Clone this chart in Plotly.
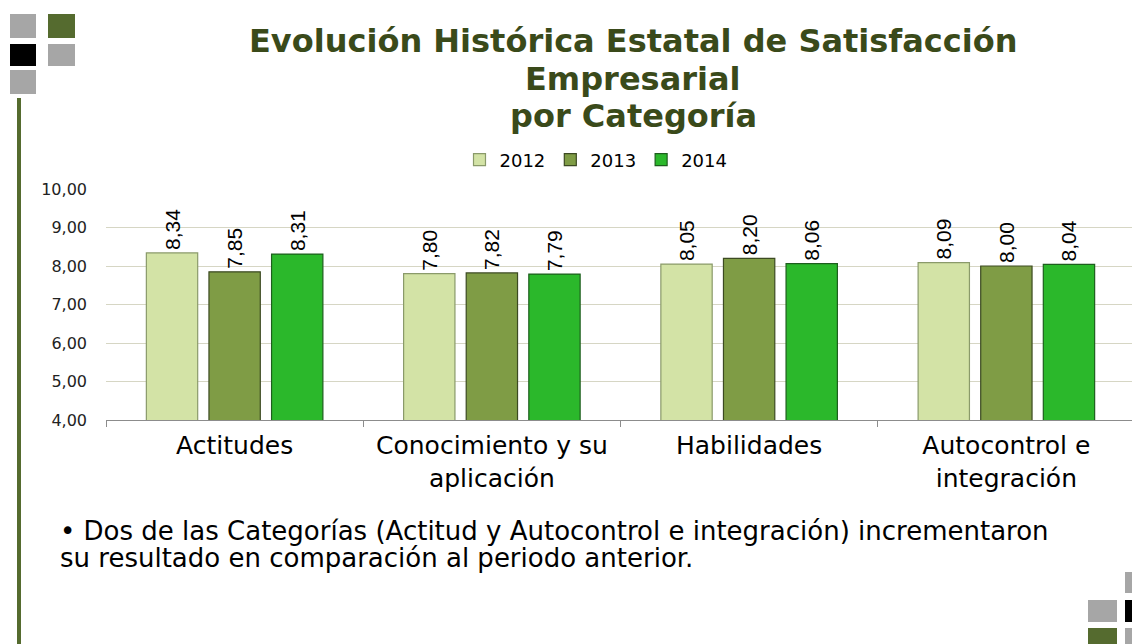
import plotly.graph_objects as go

# Data
categories = ["Actitudes", "Conocimiento y su<br>aplicación", "Habilidades",
              "Autocontrol e<br>integración"]
years = ["2012", "2013", "2014"]
values_2012 = [8.34, 7.80, 8.05, 8.09]
values_2013 = [7.85, 7.82, 8.20, 8.00]
values_2014 = [8.31, 7.79, 8.06, 8.04]
y_ticks = [4, 5, 6, 7, 8, 9, 10]

# The page body has an 8px margin, so the figure is 8px smaller and every
# position below is given in screen pixels of the reference.
OFF = 8
W, H = 1140 - OFF, 644 - OFF
PL, PR, PT, PB = 106, 1135, 189, 420

FILL = ["#D3E3A6", "#7F9C45", "#2BB82B"]
EDGE = ["#8A9A6A", "#3C4A22", "#1D5E1D"]
OLIVE = "#556B2F"
GREY = "#A6A6A6"
WIDE = "DejaVu Sans"


def px(x):
    return (x - PL) / (PR - PL)


def py(y):
    return (PB - y) / (PB - PT)


fig = go.Figure()
for i, vals in enumerate([values_2012, values_2013, values_2014]):
    fig.add_trace(go.Bar(
        x=categories, y=vals, name=years[i],
        marker=dict(color=FILL[i], line=dict(color=EDGE[i], width=1.2)),
        text=[f"{v:.2f}".replace(".", ",") for v in vals],
        textposition="outside", textangle=-90,
        textfont=dict(size=21, color="#000000", family="Arial"),
        cliponaxis=False,
    ))

# Decorative squares (top-left and bottom-right) plus the vertical rule
squares = [
    (10, 14, 36, 38, GREY), (48, 14, 75, 38, OLIVE),
    (10, 44, 36, 66, "#000000"), (48, 44, 75, 66, GREY),
    (10, 70, 36, 94, GREY),
    (1125, 572, 1150, 593, GREY),
    (1088, 600, 1117, 622, GREY), (1125, 600, 1150, 622, "#000000"),
    (1088, 628, 1117, 650, OLIVE), (1125, 628, 1150, 650, GREY),
]
shapes = []
for x0, y0, x1, y1, c in squares:
    shapes.append(dict(type="rect", xref="paper", yref="paper",
                       x0=px(x0), x1=px(x1), y0=py(y1), y1=py(y0),
                       fillcolor=c, line=dict(width=0), layer="above"))
shapes.append(dict(type="rect", xref="paper", yref="paper",
                   x0=px(17), x1=px(21), y0=py(650), y1=py(98),
                   fillcolor=OLIVE, line=dict(width=0)))

annotations = []
# title, one line per annotation so the line spacing stays tight
for text, yc in [("Evolución Histórica Estatal de Satisfacción", 41),
                 ("Empresarial", 79), ("por Categoría", 116)]:
    annotations.append(dict(
        text=f"<b>{text}</b>", xref="paper", yref="paper",
        x=px(633), y=py(yc), xanchor="center", yanchor="middle",
        showarrow=False, font=dict(size=32, color="#3A4A1A", family=WIDE)))
# bullet note below the chart
for text, yc in [("• Dos de las Categorías (Actitud y Autocontrol e integración) incrementaron", 531),
                 ("su resultado en comparación al periodo anterior.", 558)]:
    annotations.append(dict(
        text=text, xref="paper", yref="paper", x=px(58), y=py(yc),
        xanchor="left", yanchor="middle", showarrow=False,
        font=dict(size=26, color="#000000", family=WIDE)))

fig.update_layout(
    width=W, height=H,
    margin=dict(l=PL - OFF, r=W + OFF - PR, t=PT - OFF, b=H + OFF - PB),
    plot_bgcolor="white", paper_bgcolor="white",
    separators=",.",
    barmode="group", bargap=0.27, bargroupgap=0.18,
    font=dict(family=WIDE, color="#000000"),
    showlegend=True,
    legend=dict(orientation="h", x=px(596), xanchor="center", y=py(160),
                yanchor="middle", font=dict(size=18), itemwidth=30,
                traceorder="normal", bgcolor="rgba(0,0,0,0)"),
    shapes=shapes, annotations=annotations,
)
fig.update_xaxes(showline=True, linecolor="#8C8C8C", linewidth=1,
                 ticks="outside", tickson="boundaries", ticklen=6,
                 tickcolor="#8C8C8C", tickfont=dict(size=25),
                 ticklabelstandoff=3, showgrid=False)
fig.update_yaxes(range=[4, 10], tickvals=y_ticks, tickformat=".2f",
                 gridcolor="#D6D6C4", gridwidth=1, showline=False,
                 zeroline=False, tickfont=dict(size=16, color="#222222"),
                 ticks="", ticklabelstandoff=18)

fig.write_html("out.html")
